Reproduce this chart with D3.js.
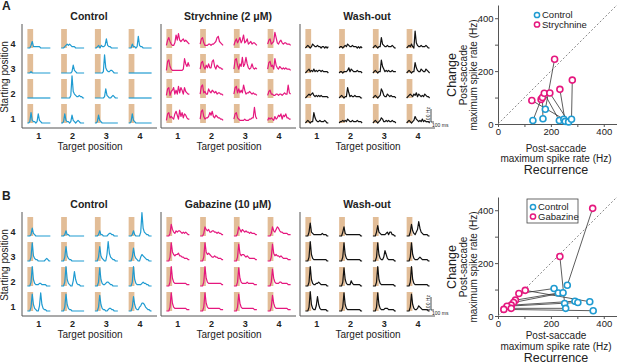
<!DOCTYPE html>
<html>
<head>
<meta charset="utf-8">
<script src="https://cdn.jsdelivr.net/npm/d3@7"></script>
<style>
  body { margin: 0; background: #fff; }
  text { font-family: "Liberation Sans", Arial, sans-serif; fill: #222; }
</style>
</head>
<body>
<div id="chart"></div>
<script>
const startRows = ["4", "3", "2", "1"];
const targetCols = ["1", "2", "3", "4"];
const sampleStep = 40;            // ms between samples
const saccadeWindow = [0, 190];   // ms, shaded
const scaleBarHz = 100, scaleBarMs = 100;

// PSTH traces, row 4..1 then col 1..4, one base-36 digit per sample (units of 10 Hz)
const controlA = [
  "00025111111000000000", "00012323211100000000", "0012021127211000000", "00031101921100000000",
  "00010000000000000000", "00000000016210000000", "00000001e42112210000", "00000000000000000000",
  "00000000000000000000", "000000002h5321121100", "00000000172100121000", "00000000000000000000",
  "00182110172100000000", "00172110162101210000", "00162100000000000000", "00172100000000000000"
];
const strychnine = [
  "26853224a6b656756543", "37842223323345895432", "25746846a45734534432", "367345c8435643443332",
  "29a532222222223b7585", "38953647449a53654433", "3ab6375c57c743474343", "389563b6435434343332",
  "27825683639486385433", "39a45337546545344332", "38947464a63445434332", "25633223323323433a43",
  "27845437963a58476433", "39a53445869546544332", "37843222232223344c53", "24343253465736574433"
];
const washoutA = [
  "01210132112110110101", "01101213211211101010", "01210118321121112100", "0121310d421121112100",
  "01231213121221211110", "01101112413211121110", "0121011a531212112111", "01210118421132113210",
  "01232342121212111110", "01210118412112111100", "01210127521132121110", "01232132413212132110",
  "01210118421121112100", "01121213211211121110", "01210124311212112110", "01210125321213121110"
];
const controlB = [
  "00016210000000000000", "00014110000000000000", "00014110000122110000", "00014100003i63211000",
  "0003e421100000012100", "0003b421100000000000", "0003b421005f63211000", "0003a421003543211000",
  "0003f521112211110000", "0003f521004b52110000", "0003e521123321100000", "0003f521111232211000",
  "0003d521004e52110000", "0003d521100000000000", "0003c521100122110000", "0003b521134665321100"
];
const gabazine = [
  "00029532434432323211", "00027545334433232211", "00027535434332322211", "00027435764332222111",
  "0003e754556443322211", "0003e756543343322211", "0003d645543432222211", "0003d645443432222111",
  "0003f632222222222111", "0003f632222222222211", "0003e632222322222111", "0003d632223322222111",
  "0003e632222222222111", "0003e632222222222111", "0003d632222222222111", "0003c632222222222111"
];
const washoutB = [
  "0003a321111111211100", "00037211111111111100", "00038321111231331100", "0003942135b632111100",
  "0003f521111111111100", "0003e521111111111100", "0003e521138521111100", "0003e521112321111100",
  "0003f521122321111100", "0003e521114211111100", "0003f521111111111100", "0003f521111111111100",
  "0003f52114b521111100", "0003e521111111111100", "0003e521112221111100", "0003d521124321111100"
];

// scatter: post-saccade maximum spike rate (Hz), pairs joined by a line
const strychCtrlX = [132, 170, 179, 232, 249, 254, 267, 278];
const strychCtrlY = [13, 20, 56, 13, 18, 10, 8, 18];
const strychDrugX = [163, 168, 214, 175, 128, 234, 196, 281];
const strychDrugY = [93, 100, 245, 116, 89, 131, 117, 166];
const gabCtrlX = [262, 252, 347, 212, 228, 246, 291, 302, 256, 360];
const gabCtrlY = [116, 47, 54, 104, 87, 88, 56, 51, 29, 20];
const gabDrugX = [358, 234, 103, 79, 66, 59, 50, 34, 50, 22];
const gabDrugY = [407, 225, 97, 85, 60, 51, 41, 37, 29, 25];
const scatterTicks = [0, 100, 200, 300, 400];

const blue = "#1f9bd1", magenta = "#e5177e", tan = "#e2bd97", axisGray = "#555";

const svg = d3.select("#chart").append("svg")
  .attr("width", 617).attr("height", 364);

function drawGrid(x0, y0, traces, color, title, scaleBar) {
  const g = svg.append("g");
  const col = d3.scaleBand().domain(targetCols).range([x0, x0 + 135])
    .paddingInner(0.32).paddingOuter(0.16);
  const row = d3.scaleBand().domain(startRows).range([y0, y0 + 104])
    .paddingInner(0.24).paddingOuter(0.2);
  const hz = d3.scaleLinear().domain([0, 100]).range([0, 13]);

  g.append("text").attr("x", x0 + 67).attr("y", y0 - 4)
    .attr("text-anchor", "middle").style("font-size", "10.5px").style("font-weight", "bold")
    .text(title);

  targetCols.forEach(c => {
    g.append("text").attr("x", col(c) + col.bandwidth() / 2).attr("y", y0 + 115)
      .attr("text-anchor", "middle").style("font-size", "9px").style("font-weight", "bold")
      .text(c);
  });
  g.append("text").attr("x", x0 + 68).attr("y", y0 + 126)
    .attr("text-anchor", "middle").style("font-size", "10px").text("Target position");

  startRows.forEach((r, ri) => {
    const base = row(r) + row.bandwidth();
    targetCols.forEach((c, ci) => {
      const vals = Array.from(traces[ri * 4 + ci], ch => parseInt(ch, 36) * 10);
      const t = d3.scaleLinear().domain([0, (vals.length - 1) * sampleStep])
        .range([col(c), col(c) + col.bandwidth()]);
      g.append("rect")
        .attr("x", t(saccadeWindow[0])).attr("y", row(r))
        .attr("width", t(saccadeWindow[1]) - t(saccadeWindow[0]))
        .attr("height", row.bandwidth())
        .attr("fill", tan);
      const line = d3.line()
        .x((d, i) => t(i * sampleStep))
        .y(d => base - hz(d));
      g.append("path").datum(vals)
        .attr("d", line).attr("fill", "none")
        .attr("stroke", color).attr("stroke-width", 1.2)
        .attr("stroke-linejoin", "round");
    });
  });

  g.append("path")
    .attr("d", `M${x0},${y0}V${y0 + 104}H${x0 + 135}`)
    .attr("fill", "none").attr("stroke", axisGray).attr("stroke-width", 1);

  if (scaleBar) {
    const base = row("1") + row.bandwidth() - 1;
    const t = d3.scaleLinear().domain([0, 760]).range([0, col.bandwidth()]);
    const bx = x0 + 131;
    g.append("path")
      .attr("d", `M${bx},${base - hz(scaleBarHz)}V${base}H${bx + t(scaleBarMs)}`)
      .attr("fill", "none").attr("stroke", "#222").attr("stroke-width", 0.8);
    g.append("text").attr("transform", `translate(${bx - 1.5},${base - 7}) rotate(-90)`)
      .attr("text-anchor", "middle").style("font-size", "5px").text(`${scaleBarHz} Hz`);
    g.append("text").attr("x", bx + 1).attr("y", base + 5)
      .style("font-size", "5px").text(`${scaleBarMs} ms`);
  }
}

function drawScatter(yBottom, ctrlX, ctrlY, drugX, drugY, drugName, boxed, recY) {
  const g = svg.append("g");
  const x = d3.scaleLinear().domain([0, 450]).range([498, 617]);
  const y = d3.scaleLinear().domain([0, 450]).range([yBottom, yBottom - 119]);

  const xAxis = g.append("g").attr("transform", `translate(0,${yBottom})`)
    .call(d3.axisBottom(x).tickValues(scatterTicks).tickSize(3).tickSizeOuter(0)
      .tickPadding(1.5).tickFormat(d => d % 200 === 0 ? d : ""));
  const yAxis = g.append("g").attr("transform", "translate(498,0)")
    .call(d3.axisLeft(y).tickValues(scatterTicks).tickSize(3).tickSizeOuter(0)
      .tickPadding(1.5).tickFormat(d => d % 200 === 0 ? d : ""));
  [xAxis, yAxis].forEach(a => {
    a.selectAll("path,line").attr("stroke", axisGray);
    a.selectAll("text").style("font-size", "9.5px")
      .style("font-family", "Liberation Sans, Arial, sans-serif").attr("fill", "#222");
  });

  g.append("line")
    .attr("x1", x(0)).attr("y1", y(0)).attr("x2", x(450)).attr("y2", y(450))
    .attr("stroke", "#888").attr("stroke-width", 1).attr("stroke-dasharray", "2,2");

  ctrlX.forEach((d, i) => {
    g.append("line")
      .attr("x1", x(d)).attr("y1", y(ctrlY[i]))
      .attr("x2", x(drugX[i])).attr("y2", y(drugY[i]))
      .attr("stroke", "#333").attr("stroke-width", 0.8);
  });
  const dots = (xs, ys, color) => g.selectAll(null).data(xs).enter().append("circle")
    .attr("cx", d => x(d)).attr("cy", (d, i) => y(ys[i])).attr("r", 3)
    .attr("fill", "#fff").attr("stroke", color).attr("stroke-width", 1.6);
  dots(ctrlX, ctrlY, blue);
  dots(drugX, drugY, magenta);

  // legend
  const lx = boxed ? 533 : 537, ly = yBottom - 109;
  if (boxed) {
    g.append("rect").attr("x", 527).attr("y", ly - 8).attr("width", 51).attr("height", 24)
      .attr("fill", "#fff").attr("stroke", "#444").attr("stroke-width", 0.8);
  }
  [["Control", blue], [drugName, magenta]].forEach(([name, color], i) => {
    g.append("circle").attr("cx", lx).attr("cy", ly + i * 9.5).attr("r", 2.6)
      .attr("fill", "#fff").attr("stroke", color).attr("stroke-width", 1.5);
    g.append("text").attr("x", lx + 5).attr("y", ly + i * 9.5 + 3.3)
      .style("font-size", "9.5px").text(name);
  });

  // axis titles
  const cx = 556;
  g.append("text").attr("x", cx).attr("y", recY - 22.5).attr("text-anchor", "middle")
    .style("font-size", "10px").text("Post-saccade");
  g.append("text").attr("x", cx).attr("y", recY - 12).attr("text-anchor", "middle")
    .style("font-size", "10px").text("maximum spike rate (Hz)");
  g.append("text").attr("x", cx).attr("y", recY).attr("text-anchor", "middle")
    .style("font-size", "12.5px").text("Recurrence");
  const cy = yBottom - 49;
  g.append("text").attr("transform", `translate(456,${cy}) rotate(-90)`)
    .attr("text-anchor", "middle").style("font-size", "12.5px").text("Change");
  g.append("text").attr("transform", `translate(467,${cy}) rotate(-90)`)
    .attr("text-anchor", "middle").style("font-size", "10px").text("Post-saccade");
  g.append("text").attr("transform", `translate(477,${cy}) rotate(-90)`)
    .attr("text-anchor", "middle").style("font-size", "10px").text("maximum spike rate (Hz)");
}

function drawRowLabels(y0) {
  const row = d3.scaleBand().domain(startRows).range([y0, y0 + 104])
    .paddingInner(0.24).paddingOuter(0.2);
  startRows.forEach(r => {
    svg.append("text").attr("x", 13).attr("y", row(r) + row.bandwidth() - 1)
      .attr("text-anchor", "middle").style("font-size", "9px").style("font-weight", "bold").text(r);
  });
  svg.append("text").attr("transform", `translate(8,${y0 + 53}) rotate(-90)`)
    .attr("text-anchor", "middle").style("font-size", "10px").text("Starting position");
}

// panel A
svg.append("text").attr("x", 2).attr("y", 10).style("font-size", "12px")
  .style("font-weight", "bold").text("A");
drawRowLabels(24);
drawGrid(22, 24, controlA, blue, "Control", false);
drawGrid(161, 24, strychnine, magenta, "Strychnine (2 \u03bcM)", false);
drawGrid(300, 24, washoutA, "#111", "Wash-out", true);
drawScatter(124, strychCtrlX, strychCtrlY, strychDrugX, strychDrugY, "Strychnine", false, 174);

// panel B
svg.append("text").attr("x", 2).attr("y", 200).style("font-size", "12px")
  .style("font-weight", "bold").text("B");
drawRowLabels(212);
drawGrid(22, 212, controlB, blue, "Control", false);
drawGrid(161, 212, gabazine, magenta, "Gabazine (10 \u03bcM)", false);
drawGrid(300, 212, washoutB, "#111", "Wash-out", true);
drawScatter(316, gabCtrlX, gabCtrlY, gabDrugX, gabDrugY, "Gabazine", true, 361.5);
</script>
</body>
</html>
